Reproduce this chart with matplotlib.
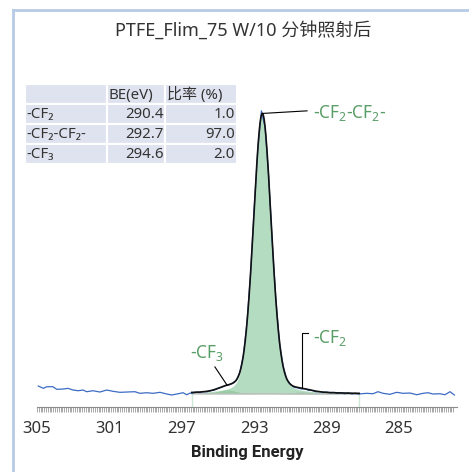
import numpy as np
import matplotlib
matplotlib.use("Agg")
import matplotlib.pyplot as plt
from matplotlib.patches import Rectangle
from matplotlib.lines import Line2D

plt.rcParams['font.family'] = ['Noto Sans', 'Noto Sans CJK SC', 'DejaVu Sans']
plt.rcParams['mathtext.fontset'] = 'custom'
plt.rcParams['mathtext.rm'] = 'Noto Sans'
plt.rcParams['mathtext.it'] = 'Noto Sans'

be = [304.93, 304.65, 304.46, 304.12, 303.91, 303.56, 303.29, 303.01, 302.73, 302.46,
      302.25, 301.91, 301.52, 301.15, 300.80, 300.41, 300.04, 299.59, 299.31, 298.94,
      298.59, 298.20, 297.83, 297.56, 297.28, 296.93, 296.73, 296.55,
      296.4, 296.2, 296.0, 295.8, 295.6, 295.4, 295.2, 295.0, 294.8, 294.6,
      294.4, 294.2, 294.0, 293.8, 293.6, 293.4, 293.2, 293.0, 292.8, 292.6,
      292.4, 292.2, 292.0, 291.8, 291.6, 291.4, 291.2, 291.0, 290.8, 290.6,
      290.4, 290.2, 290.0, 289.8, 289.6, 289.4, 289.2, 289.0, 288.8, 288.6,
      288.4, 288.2, 288.0, 287.8, 287.6, 287.4,
      287.27, 286.78, 286.44, 286.16, 285.88, 285.50, 285.13, 284.78, 284.39, 284.02,
      283.67, 283.40, 283.12, 282.73, 282.46, 282.18, 281.94]
counts = [2.84, 2.02, 2.59, 2.59, 1.67, 1.77, 2.02, 1.42, 1.17, 1.42,
          0.82, 1.17, 0.71, 1.42, 0.96, 0.60, 0.71, 0.82, 0.25, 0.46,
          0.25, 0.60, 0.0, -0.35, 0.0, 0.46, -0.25, 0.3,
          0.3, 0.7, 0.5, 0.9, 0.8, 1.2, 1.4, 2.0, 2.4, 3.0,
          3.2, 3.9, 4.8, 7.6, 13.6, 25.3, 42.6, 65.9, 86.8, 100.4,
          94.5, 77.3, 53.5, 33.4, 18.1, 9.9, 5.2, 3.5, 2.4, 2.2,
          1.8, 1.9, 1.3, 1.3, 0.8, 0.9, 0.5, 0.7, 0.4, 0.6,
          0.2, 0.5, 0.1, 0.4, 0.0, 0.3,
          0.0, 0.25, 0.1, 0.82, 0.25, -0.1, 0.6, 0.25, 0.35, -0.25,
          0.25, 0.46, 0.0, 0.1, -0.25, 0.82, -0.35]

# fitted components
comp_labels = ['-CF$_2$', '-CF$_2$-CF$_2$-', '-CF$_3$']
comp_center = [290.35, 292.55, 294.5]
comp_height = [0.7, 99.4, 1.4]
comp_fwhm = [1.2, 1.17, 1.2]
lorentz_frac = 0.2
fit_range = (296.45, 287.2)
bg_ends = (0.1, 0.0)

# table
table_rows = ['-CF\u2082', '-CF\u2082-CF\u2082-', '-CF\u2083']
table_be = [290.4, 292.7, 294.6]
table_ratio = [1.0, 97.0, 2.0]
table_head = ['', 'BE(eV)', '比率 (%)']


def pvoigt(x, c, h, w):
    g = np.exp(-4 * np.log(2) * (x - c) ** 2 / w ** 2)
    l = 1 / (1 + 4 * (x - c) ** 2 / w ** 2)
    return h * ((1 - lorentz_frac) * g + lorentz_frac * l)


W, H = 469, 472
fig = plt.figure(figsize=(W / 100, H / 100), dpi=100)


def fx(x):
    return x / W


def fy(y):
    return 1 - y / H


ax = fig.add_axes([fx(37), fy(407), 420 / W, (407 - 55) / H])

xg = np.linspace(fit_range[0], fit_range[1], 600)
bg = np.interp(xg, [fit_range[1], fit_range[0]], [bg_ends[1], bg_ends[0]])
comps = [pvoigt(xg, c, h, w) for c, h, w in zip(comp_center, comp_height, comp_fwhm)]
env = bg + sum(comps)

ax.fill_between(xg, bg, bg + comps[1], color='#b4dcc0', lw=0, zorder=1)
ax.fill_between(xg, bg, bg + comps[0], color='#8cc79a', alpha=0.7, lw=0, zorder=2)
ax.fill_between(xg, bg, bg + comps[2], color='#8cc79a', alpha=0.7, lw=0, zorder=2)
ax.plot(xg, bg, color='#bdbdbd', lw=1, zorder=2)
ax.plot(be, counts, color='#3d6cc4', lw=0.9, zorder=3)
ax.plot(xg, env, color='#111111', lw=1.2, zorder=4)

for xr in fit_range:
    ax.axvline(xr, ymin=0, ymax=4.6 / 124.8, color='#cfe8d3', lw=1, zorder=0)

ax.set_xlim(305, 305 - 420 / 18.1)
ax.set_ylim(-4.6, 120.2)

green = '#5a9e67'
# annotations
ipk = np.argmax(env)
ax.plot([xg[ipk], 290.08], [env[ipk], 100.4], color='k', lw=0.8, zorder=5)
ax.text(289.75, 99.6, comp_labels[1], color=green, fontsize=12.5, ha='left', va='center')

e3 = np.interp(comp_center[2], xg[::-1], env[::-1])
ax.plot([295.17, comp_center[2]], [9.6, e3], color='k', lw=0.8, zorder=5)
ax.text(295.6, 14.5, comp_labels[2], color=green, fontsize=12.5, ha='center', va='center')

e2 = np.interp(comp_center[0], xg[::-1], env[::-1])
ax.plot([290.05, comp_center[0], comp_center[0]], [21.6, 21.6, e2], color='k', lw=0.8, zorder=5)
ax.text(289.75, 19.9, comp_labels[0], color=green, fontsize=12.5, ha='left', va='center')

# axes styling
for s in ['left', 'right', 'top']:
    ax.spines[s].set_visible(False)
ax.spines['bottom'].set_color('#8c8c8c')
ax.set_yticks([])
ax.set_xticks([305, 301, 297, 293, 289, 285])
ax.set_xticks(np.arange(282.0, 305.01, 0.1), minor=True)
ax.tick_params(axis='x', which='both', direction='out', length=3.8, width=0.6,
               color='#9a9a9a')
ax.tick_params(axis='x', which='major', labelsize=12, labelcolor='#333333', pad=6)
ax.set_xlabel('Binding Energy', fontsize=12, fontweight='bold', color='#222222',
              labelpad=6, family=['Roboto', 'DejaVu Sans'])

fig.text(fx(243.5), fy(30), 'PTFE_Flim_75 W/10 分钟照射后', fontsize=13,
         color='#333333', ha='center', va='center')

# table
col_edges = [25, 107, 165, 237]
row_edges = [84, 104, 124, 144, 164]
for r in range(4):
    for c in range(3):
        fig.add_artist(Rectangle((fx(col_edges[c]), fy(row_edges[r + 1])),
                                 (col_edges[c + 1] - col_edges[c]) / W,
                                 (row_edges[r + 1] - row_edges[r]) / H,
                                 transform=fig.transFigure, facecolor='#dfe3ef',
                                 edgecolor='white', lw=1.5))
tcol = '#333333'
fs = 10.8
yc = [(row_edges[i] + row_edges[i + 1]) / 2 + 1 for i in range(4)]
fig.text(fx(108), fy(yc[0]), table_head[1], fontsize=fs, color=tcol, ha='left', va='center')
fig.text(fx(167), fy(yc[0]), table_head[2], fontsize=fs, color=tcol, ha='left', va='center')
for i in range(3):
    fig.text(fx(26), fy(yc[i + 1]), table_rows[i], fontsize=fs, color=tcol, ha='left', va='center')
    fig.text(fx(164), fy(yc[i + 1]), '%.1f' % table_be[i], fontsize=fs, color=tcol, ha='right', va='center')
    fig.text(fx(235), fy(yc[i + 1]), '%.1f' % table_ratio[i], fontsize=fs, color=tcol, ha='right', va='center')

# frame
fig.add_artist(Line2D([fx(13), fx(13)], [fy(10), 0], color='#b7cbe6', lw=2))
fig.add_artist(Line2D([fx(13), 1], [fy(10), fy(10)], color='#b7cbe6', lw=2))

fig.savefig('out.png', dpi=100)
